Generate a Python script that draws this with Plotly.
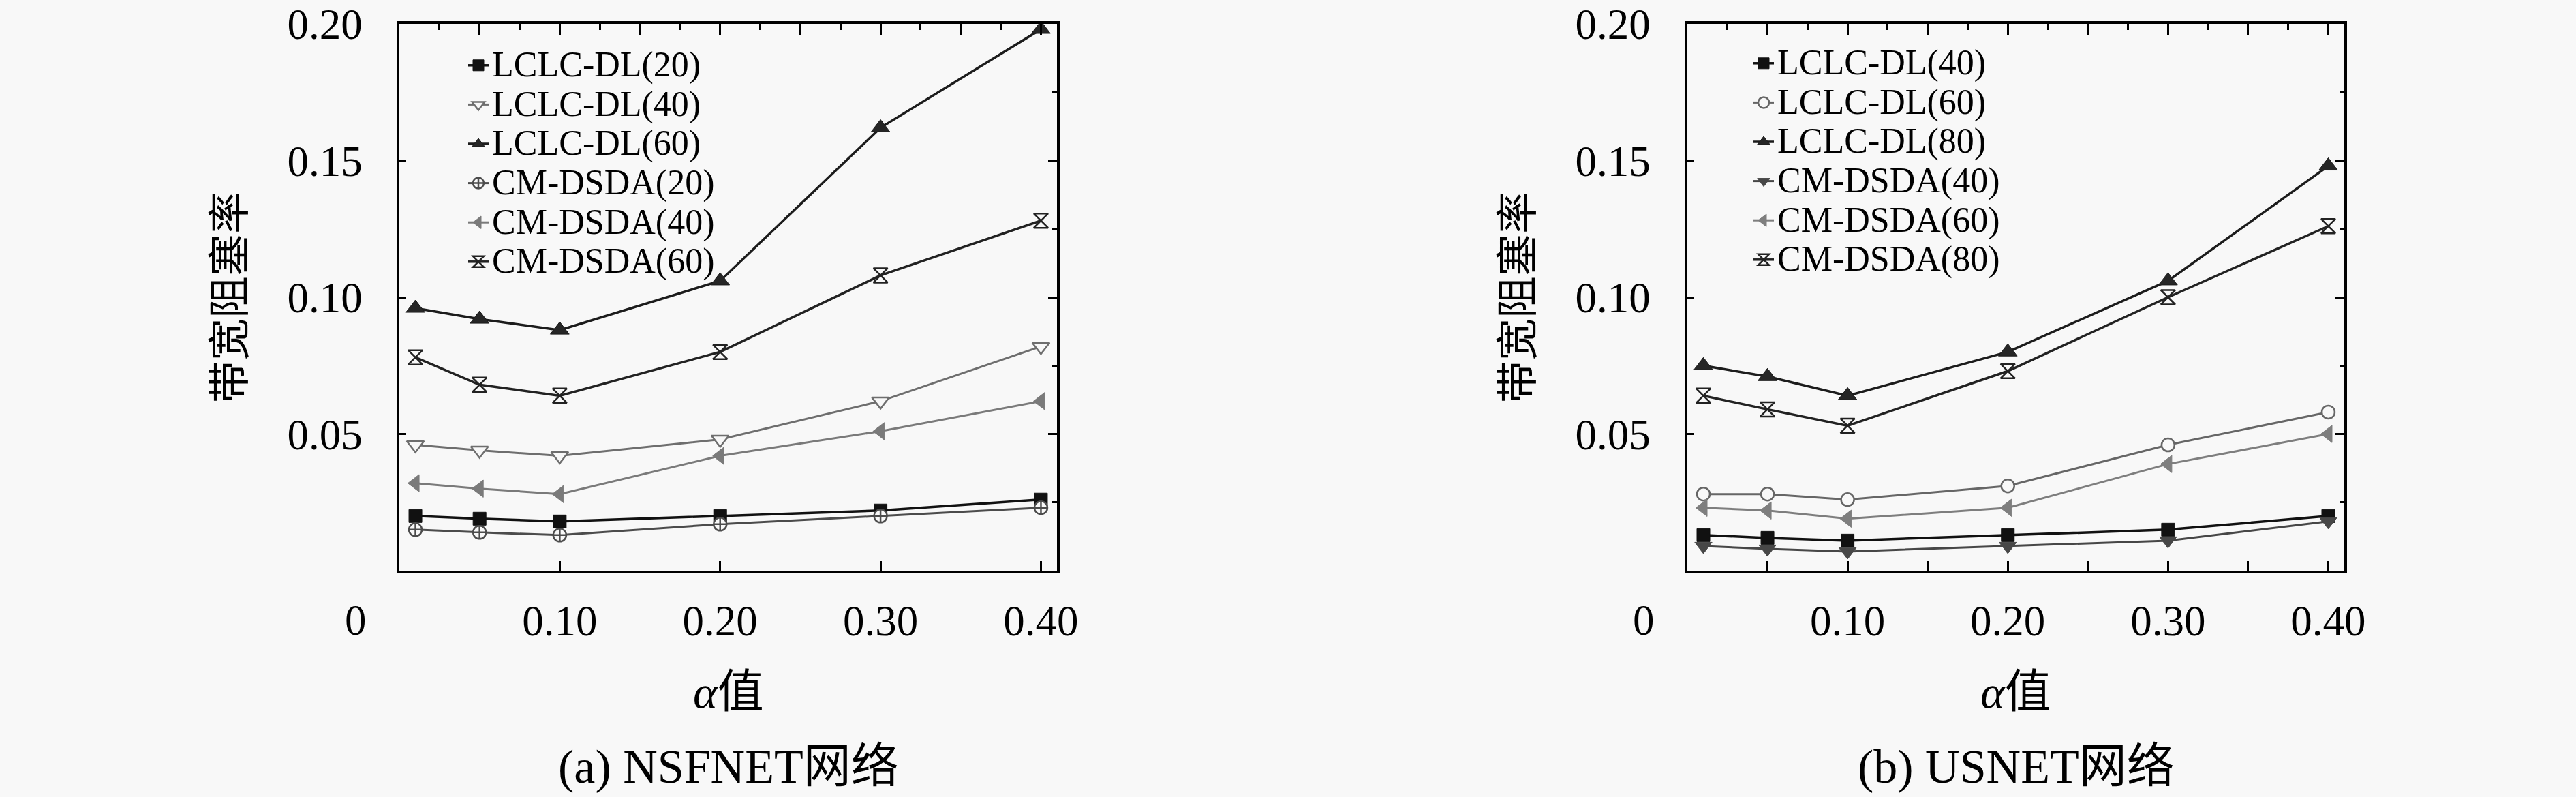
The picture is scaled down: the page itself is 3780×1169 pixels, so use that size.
import plotly.graph_objects as go

# alpha values (x axis)
alpha = [0.01, 0.05, 0.10, 0.20, 0.30, 0.40]

# (a) NSFNET
nsf_lclc_20 = [0.020, 0.019, 0.018, 0.020, 0.022, 0.026]
nsf_lclc_40 = [0.046, 0.044, 0.042, 0.048, 0.062, 0.082]
nsf_lclc_60 = [0.096, 0.092, 0.088, 0.106, 0.162, 0.198]
nsf_cm_20 = [0.015, 0.014, 0.013, 0.017, 0.020, 0.023]
nsf_cm_40 = [0.032, 0.030, 0.028, 0.042, 0.051, 0.062]
nsf_cm_60 = [0.078, 0.068, 0.064, 0.080, 0.108, 0.128]

# (b) USNET
us_lclc_40 = [0.013, 0.012, 0.011, 0.013, 0.015, 0.020]
us_lclc_60 = [0.028, 0.028, 0.026, 0.031, 0.046, 0.058]
us_lclc_80 = [0.075, 0.071, 0.064, 0.080, 0.106, 0.148]
us_cm_40 = [0.009, 0.008, 0.007, 0.009, 0.011, 0.018]
us_cm_60 = [0.023, 0.022, 0.019, 0.023, 0.039, 0.050]
us_cm_80 = [0.064, 0.059, 0.053, 0.073, 0.100, 0.126]

y_tickvals = [0.05, 0.10, 0.15, 0.20]
y_ticktext = ["0.05", "0.10", "0.15", "0.20"]

W, H = 3780, 1169
BG = "#f8f8f8"
FONT = "Liberation Serif, 'Noto Sans CJK SC', serif"

# plot areas in pixels -> paper fractions
dom_a = [586 / W, 1551 / W]
dom_b = [2476 / W, 3440 / W]
dom_y = [(H - 837) / H, (H - 35) / H]


def name(s):
    return f"<span style='font-size:52px'>{s}</span>"


series_a = [
    ("LCLC-DL(20)", nsf_lclc_20, "#111111", "square", "#111111", 19, 3.5),
    ("LCLC-DL(40)", nsf_lclc_40, "#6e6e6e", "triangle-down", BG, 22, 3),
    ("LCLC-DL(60)", nsf_lclc_60, "#1c1c1c", "triangle-up", "#262626", 24, 3.5),
    ("CM-DSDA(20)", nsf_cm_20, "#4c4c4c", "circle-cross", BG, 19, 3),
    ("CM-DSDA(40)", nsf_cm_40, "#7a7a7a", "triangle-left", "#7a7a7a", 22, 3),
    ("CM-DSDA(60)", nsf_cm_60, "#222222", "hourglass-open", "#222222", 21, 3.5),
]
series_b = [
    ("LCLC-DL(40)", us_lclc_40, "#111111", "square", "#111111", 19, 3.5),
    ("LCLC-DL(60)", us_lclc_60, "#666666", "circle", BG, 19, 3),
    ("LCLC-DL(80)", us_lclc_80, "#1c1c1c", "triangle-up", "#262626", 24, 3.5),
    ("CM-DSDA(40)", us_cm_40, "#474747", "triangle-down", "#474747", 22, 3),
    ("CM-DSDA(60)", us_cm_60, "#7e7e7e", "triangle-left", "#7e7e7e", 22, 3),
    ("CM-DSDA(80)", us_cm_80, "#222222", "hourglass-open", "#222222", 21, 3.5),
]

fig = go.Figure()


def add_series(series, xa, ya, legend):
    for label, vals, color, symbol, fill, size, lw in series:
        fig.add_trace(
            go.Scatter(
                x=alpha,
                y=vals,
                name=name(label),
                mode="lines+markers",
                xaxis=xa,
                yaxis=ya,
                legend=legend,
                line=dict(color=color, width=lw),
                marker=dict(
                    symbol=symbol,
                    size=size,
                    color=fill,
                    line=dict(color=color, width=2.5 if fill == BG or "open" in symbol else 1),
                ),
            )
        )


add_series(series_a, "x", "y", "legend")
add_series(series_b, "x2", "y2", "legend2")

# invisible traces so the overlay (top/right tick) axes get drawn
for xa, ya, vals in [("x3", "y3", nsf_lclc_20), ("x4", "y4", us_lclc_40)]:
    fig.add_trace(
        go.Scatter(
            x=alpha, y=vals, xaxis=xa, yaxis=ya, mode="lines",
            line=dict(width=0), opacity=0, showlegend=False, hoverinfo="skip",
        )
    )

tickfont = dict(family=FONT, size=63, color="black")
base_x = dict(
    range=[0, 0.41], showline=True, linewidth=3.5, linecolor="black", mirror=True,
    ticks="inside", ticklen=14, tickwidth=2.5, tickcolor="black", automargin=False,
    showgrid=False, zeroline=False, tickfont=tickfont, ticklabelstandoff=16,
)
base_y = dict(
    range=[0, 0.2], domain=dom_y, showline=True, linewidth=3.5, linecolor="black",
    mirror=True, ticks="inside", ticklen=10, tickwidth=2.5, tickcolor="black",
    showgrid=False, zeroline=False, tickfont=tickfont, ticklabelstandoff=38,
    tickvals=y_tickvals, ticktext=y_ticktext, automargin=False,
)
top_x = dict(
    range=[0, 0.41], side="top", showline=False, showgrid=False, zeroline=False,
    ticks="inside", tick0=0, dtick=0.05, ticklen=16, tickwidth=2.5, tickcolor="black",
    minor=dict(ticks="inside", dtick=0.025, ticklen=9, tickwidth=2.5, tickcolor="black"),
    showticklabels=False, automargin=False,
)
right_y = dict(
    range=[0, 0.2], side="right", showline=False, showgrid=False, zeroline=False,
    ticks="inside", tick0=0, dtick=0.05, ticklen=13, tickwidth=2.5, tickcolor="black",
    minor=dict(ticks="inside", dtick=0.025, ticklen=7, tickwidth=2.5, tickcolor="black"),
    showticklabels=False, automargin=False,
)

legend_common = dict(
    xanchor="left", yanchor="top", bgcolor="rgba(0,0,0,0)", borderwidth=0,
    font=dict(family=FONT, size=42, color="black"), traceorder="normal",
)

fig.update_layout(
    template="none",
    width=W,
    height=H,
    paper_bgcolor=BG,
    plot_bgcolor=BG,
    margin=dict(l=0, r=0, t=0, b=0, autoexpand=False),
    font=dict(family=FONT, color="black"),
    xaxis=dict(base_x, domain=dom_a, anchor="y",
               tickvals=[0.1, 0.2, 0.3, 0.4], ticktext=["0.10", "0.20", "0.30", "0.40"]),
    yaxis=dict(base_y, anchor="x"),
    xaxis2=dict(base_x, domain=dom_b, anchor="y2",
                tickvals=[0.05, 0.1, 0.15, 0.2, 0.25, 0.3, 0.35, 0.4],
                ticktext=["", "0.10", "", "0.20", "", "0.30", "", "0.40"]),
    yaxis2=dict(base_y, anchor="x2"),
    xaxis3=dict(top_x, overlaying="x", anchor="y"),
    yaxis3=dict(right_y, overlaying="y", anchor="x"),
    xaxis4=dict(top_x, overlaying="x2", anchor="y2"),
    yaxis4=dict(right_y, overlaying="y2", anchor="x2"),
    legend=dict(legend_common, x=682 / W, y=1 - 62 / H),
    legend2=dict(legend_common, x=2568 / W, y=1 - 59 / H),
    showlegend=True,
)

# texts: origin "0", axis titles and captions
for dom, cap in [(dom_a, "(a) NSFNET网络"), (dom_b, "(b) USNET网络")]:
    cx = (dom[0] + dom[1]) / 2
    common = dict(xref="paper", yref="paper", showarrow=False,
                  xanchor="center", yanchor="middle")
    fig.add_annotation(common, x=dom[0] - 64 / W, y=1 - 910 / H,
                       text="0", font=dict(family=FONT, size=63))
    fig.add_annotation(common, x=cx, y=1 - 1015 / H,
                       text="<i>α</i>值", font=dict(family=FONT, size=68))
    fig.add_annotation(common, x=cx, y=1 - 1124 / H,
                       text=cap, font=dict(family=FONT, size=70))
    fig.add_annotation(common, x=dom[0] - 248 / W, y=(dom_y[0] + dom_y[1]) / 2,
                       text="带宽阻塞率", textangle=-90, font=dict(family=FONT, size=62))

fig.write_html(
    "out.html",
    config={"displayModeBar": False},
    post_script="document.body.style.margin='0';",
)
